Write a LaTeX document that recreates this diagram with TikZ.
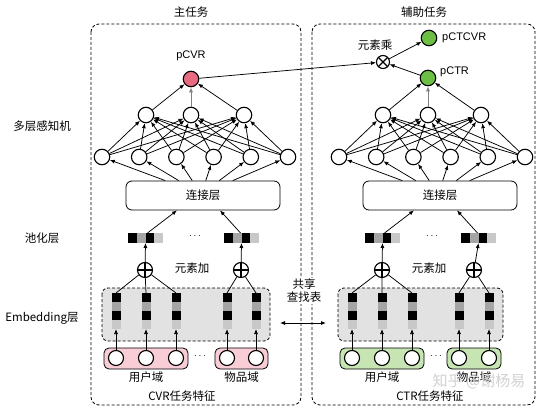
\documentclass[tikz,border=0pt]{standalone}
\usepackage{fontspec}
\setmainfont{Liberation Sans}
\newfontfamily\cjk{Noto Sans CJK SC}
\usetikzlibrary{arrows.meta,calc}
\definecolor{pcvrred}{RGB}{232,106,128}
\definecolor{okgreen}{RGB}{108,190,69}
\definecolor{pinkfill}{RGB}{248,205,213}
\definecolor{greenfill}{RGB}{198,229,178}
\definecolor{embfill}{RGB}{226,226,226}
\definecolor{cgray}{RGB}{165,165,165}
\definecolor{clgray}{RGB}{200,200,200}
\begin{document}
\begin{tikzpicture}[x=1pt,y=-1pt,
  nn/.style={circle,draw,line width=1.1pt,fill=white,minimum size=15.5pt,inner sep=0pt},
  arr/.style={-{Latex[length=5pt,width=4pt]},line width=0.75pt},
  catbox/.style={draw,rounded corners=6pt,minimum width=154pt,minimum height=29pt,line width=0.8pt,fill=white,font=\cjk\fontsize{11.5pt}{13pt}\selectfont},
  lbl/.style={font=\cjk\fontsize{11.5pt}{13pt}\selectfont,inner sep=0pt},
  lat/.style={font=\fontsize{11pt}{13pt}\selectfont,inner sep=0pt},
  dbox/.style={draw,dash pattern=on 3pt off 2pt,line width=0.8pt,rounded corners=8pt},
  blank/.style={inner sep=0pt,outer sep=0pt}]
\fill[white] (0,0) rectangle (544,412);
\useasboundingbox (0,0) rectangle (544,412);

% task boxes
\draw[dbox] (91,24) rectangle (301,405);
\draw[dbox] (312,24) rectangle (535,405);
\node[lbl] (t1) at (191,12) {主任务};
\node[lbl] (t2) at (424,12) {辅助任务};

% side labels
\node[lbl] (s1) at (42,126) {多层感知机};
\node[lbl] (s2) at (42,238) {池化层};
\node[lbl] (s3) at (42,318) {\fontsize{11.5pt}{13pt}\selectfont Embedding\cjk 层};

% two towers
\foreach \s/\d/\ia/\ib/\ic/\id/\ie/\pa/\oa/\ob/\fc in
  {L/0/116/146/176/227/256/128/145/241/pinkfill, R/237/352/382/412/459/489/365/382/474/greenfill}{
  % MLP
  \foreach \i in {0,...,5} \node[nn] (h1\s\i) at ({102+37.2*\i+\d},157) {};
  \node[nn] (h2\s0) at ({146+\d},115) {};
  \node[nn] (h2\s1) at ({191+\d},115) {};
  \node[nn] (h2\s2) at ({244+\d},115) {};
  \node[catbox] (cat\s) at ({203+\d},195.5) {连接层};
  \foreach \i in {0,...,5} \foreach \j in {0,1,2} \draw[arr] (h1\s\i) -- (h2\s\j);
  \foreach \i [evaluate=\i as \xo using {(\i-2.5)*13.5-4}] in {0,...,5}
    \draw[arr] ([xshift=\xo pt]cat\s.north) -- (h1\s\i);
  % pooled blocks
  \node[blank,minimum width=35pt,minimum height=10pt] (pool\s0) at ({\pa+17.5},238) {};
  \node[blank,minimum width=35pt,minimum height=10pt] (pool\s1) at ({\pa+113.5},238) {};
  \foreach \k/\c in {0/black,1/cgray,2/black,3/clgray}{
    \fill[\c] ({\pa+8.75*\k},233) rectangle ++(8.75,10);
    \fill[\c] ({\pa+96+8.75*\k},233) rectangle ++(8.75,10);
  }
  \node[inner sep=0pt] (dotp\s) at ({\pa+67},236) {$\cdots$};
  \draw[arr] ([xshift=2pt]pool\s0.north) -- ([xshift=-26pt]cat\s.south);
  \draw[arr] ([xshift=-1pt]pool\s1.north) -- ([xshift=17pt]cat\s.south);
  % element add
  \node[nn,minimum size=15pt] (opA\s) at (\oa,270) {};
  \node[nn,minimum size=15pt] (opB\s) at (\ob,270) {};
  \draw[line width=1.1pt] (opA\s.north) -- (opA\s.south) (opA\s.west) -- (opA\s.east)
                        (opB\s.north) -- (opB\s.south) (opB\s.west) -- (opB\s.east);
  \node[lbl] (add\s) at ({\pa+64},268) {元素加};
  \draw[arr] (opA\s) -- (pool\s0.south);
  \draw[arr] (opB\s) -- (pool\s1.south);
  % embedding box and domain boxes
  \draw[fill=embfill,dash pattern=on 3pt off 2pt,line width=0.8pt,rounded corners=6pt] ({\ia-14},288) rectangle ({\ie+14},341);
  \draw[fill=\fc,line width=0.8pt,rounded corners=5pt] ({\ia-12},348) rectangle ({\ic+12},369);
  \draw[fill=\fc,line width=0.8pt,rounded corners=5pt] ({\id-12},348) rectangle ({\ie+12},369);
  \node[inner sep=0pt] (doti\s) at ({\ic+24},356) {$\cdots$};
  \foreach \cx [count=\n] in {\ia,\ib,\ic,\id,\ie}{
    \node[blank,minimum width=9pt,minimum height=36pt] (col\s\n) at (\cx,311) {};
    \fill[black]  ({\cx-4.5},293) rectangle ++(9,9);
    \fill[cgray]  ({\cx-4.5},302) rectangle ++(9,9);
    \fill[black]  ({\cx-4.5},311) rectangle ++(9,9);
    \fill[clgray] ({\cx-4.5},320) rectangle ++(9,9);
    \node[nn,minimum size=15pt] (in\s\n) at (\cx,358) {};
    \draw[arr] (in\s\n) -- (col\s\n.south);
  }
  \draw[line width=0.75pt] (opA\s) -- (col\s1.north) (opA\s) -- (col\s2.north) (opA\s) -- (col\s3.north)
                          (opB\s) -- (col\s4.north) (opB\s) -- (col\s5.north);
  \node[lbl] (ud\s) at (\ib,377) {用户域};
  \node[lbl] (id\s) at ({(\id+\ie)/2},377) {物品域};
}

\node[lbl] (fL) at (182,396) {\fontsize{11.5pt}{13pt}\selectfont CVR\cjk 任务特征};
\node[lbl] (fR) at (430,396) {\fontsize{11.5pt}{13pt}\selectfont CTR\cjk 任务特征};

% outputs
\node[nn,fill=pcvrred] (outL) at (191,79) {};
\node[nn,fill=okgreen] (outR) at (428,78) {};
\node[lat] (lpcvr) at (191,56) {pCVR};
\node[lat,anchor=west] (lpctr) at (440,72) {pCTR};
\foreach \s in {L,R}{
  \draw[arr] (h2\s0) -- (out\s);
  \draw[arr,draw=gray] (h2\s1) -- (out\s);
  \draw[arr] (h2\s2) -- (out\s);
}
\node[nn,minimum size=13pt] (mul) at (383,62) {};
\draw[line width=1.1pt] (mul.north east) -- (mul.south west) (mul.north west) -- (mul.south east);
\node[lbl] (lmul) at (375,45) {元素乘};
\node[nn,fill=okgreen] (ctcvr) at (429,38) {};
\node[lat,anchor=west] (lctcvr) at (442,38) {pCTCVR};
\draw[arr] (outL) -- (mul);
\draw[arr] (outR) -- (mul);
\draw[arr] (mul) -- (ctcvr);

% shared lookup
\node[lbl,fill=white,inner sep=1pt,align=center] (share) at (304,291) {共享\\查找表};
\coordinate (sa) at (280,323);
\coordinate (sb) at (326,323);
\draw[{Latex[length=5pt,width=4pt]}-{Latex[length=5pt,width=4pt]},line width=0.8pt] (sa) -- (sb);

% watermark
\node[font=\cjk\fontsize{15pt}{15pt}\selectfont,inner sep=0pt,text=gray!35] (wm) at (479,381) {知乎 @谢杨易};
\end{tikzpicture}
\end{document}
